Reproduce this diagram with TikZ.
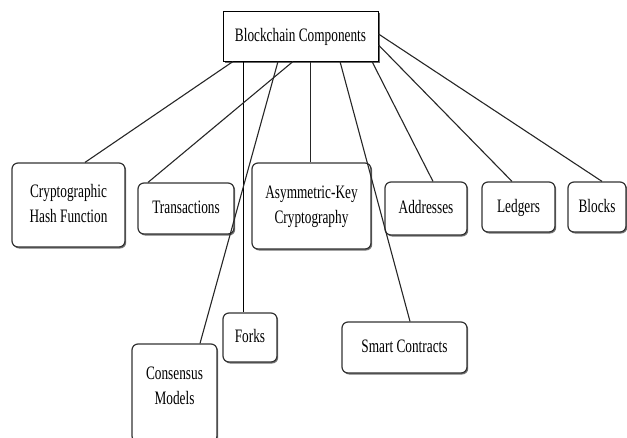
\documentclass[tikz,border=0pt]{standalone}
\usepackage{fontspec}
\setmainfont{Liberation Serif}
\usetikzlibrary{shadows}
\newcommand{\ctext}[1]{\scalebox{0.7}[1]{\begin{tabular}{@{}c@{}}#1\end{tabular}}}
\begin{document}
\begin{tikzpicture}[x=1pt,y=-1pt,
  every node/.style={font=\fontsize{19}{25}\selectfont, align=center, inner sep=0pt},
  comp/.style={draw=black!80, line width=1.2pt, rounded corners=6pt, fill=white,
    drop shadow={shadow xshift=1.2pt, shadow yshift=-1.5pt, fill=black!55, opacity=1}},
  root/.style={draw=black, line width=1pt, fill=white,
    drop shadow={shadow xshift=1.5pt, shadow yshift=-1.5pt, fill=black!60, opacity=1}},
  link/.style={draw=black!85, line width=1.1pt},
  vlink/.style={draw=black, line width=0.8pt}]
\useasboundingbox (0,0) rectangle (627,437);
\begin{scope}
\clip (0,0) rectangle (627,437);
\node[root, minimum width=155pt, minimum height=50pt] (main) at (300.5,36) {\ctext{Blockchain Components}};
\node[comp, minimum width=113pt, minimum height=84pt] (hash) at (68.5,205) {\ctext{Cryptographic\\Hash Function}};
\node[comp, minimum width=96pt, minimum height=51pt] (trans) at (186,208.5) {\ctext{Transactions}};
\node[comp, minimum width=119pt, minimum height=86pt] (asym) at (311.5,206) {\ctext{Asymmetric-Key\\Cryptography}};
\node[comp, minimum width=82pt, minimum height=53pt] (addr) at (426,208.5) {\ctext{Addresses}};
\node[comp, minimum width=73pt, minimum height=50pt] (ledg) at (518.5,207) {\ctext{Ledgers}};
\node[comp, minimum width=58pt, minimum height=50pt] (blocks) at (597,207) {\ctext{Blocks}};
\node[comp, minimum width=54pt, minimum height=49pt] (forks) at (250,337.5) {\ctext{Forks}};
\node[comp, minimum width=85pt, minimum height=98pt] (cons) at (174.5,393) {\raisebox{2pt}[0pt][0pt]{\ctext{Consensus\\Models}}};
\node[comp, minimum width=125pt, minimum height=51pt] (smart) at (404.5,347.5) {\ctext{Smart Contracts}};
\end{scope}
\draw[link] ([xshift=-67.5pt]main.south) -- ([xshift=16.5pt]hash.north);
\draw[vlink] ([xshift=-57.5pt]main.south) -- ([xshift=-7pt]forks.north);
\draw[link] ([xshift=-22.5pt]main.south) -- ([xshift=25.5pt]cons.north);
\draw[link] ([xshift=-7.5pt]main.south) -- ([xshift=-38pt]trans.north);
\draw[vlink, draw=black!85] ([xshift=9.5pt]main.south) -- ([xshift=-1.5pt]asym.north);
\draw[link] ([xshift=39.5pt]main.south) -- ([xshift=5.5pt]smart.north);
\draw[link] ([xshift=71.5pt]main.south) -- ([xshift=7pt]addr.north);
\draw[link] ([yshift=-9pt]main.east) -- ([xshift=-6.5pt]ledg.north);
\draw[link] ([yshift=2pt]main.east) -- ([xshift=5pt]blocks.north);
\end{tikzpicture}
\end{document}
